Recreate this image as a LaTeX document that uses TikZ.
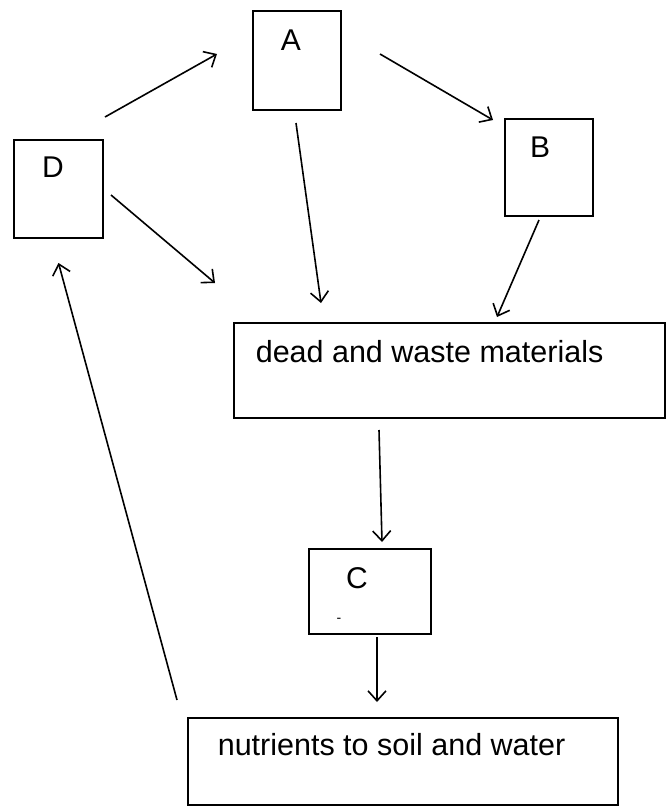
\documentclass[tikz,border=0pt]{standalone}
\usepackage{fontspec}
\setmainfont{Liberation Sans}
\usetikzlibrary{arrows.meta,calc}

\begin{document}
\begin{tikzpicture}[
    x=1pt, y=-1pt,
    >={Straight Barb[length=10pt,width=18pt]},
    every path/.style={line width=1.6pt},
    box/.style={draw,line width=2pt,anchor=north west,inner sep=0pt},
    letter/.style={inner sep=0pt,font=\fontsize{30}{36}\selectfont},
    words/.style={inner sep=0pt,anchor=west,font=\fontsize{30.5}{36}\selectfont}
    ]

    \useasboundingbox (0,0) rectangle (666,806);

    \node (A) at (252, 10) [box,minimum width=88pt,minimum height=99pt] {};
    \node (B) at (504, 118) [box,minimum width=88pt,minimum height=97pt] {};
    \node (D) at (13, 139) [box,minimum width=89pt,minimum height=98pt] {};
    \node (dead) at (233, 322) [box,minimum width=431pt,minimum height=95pt] {};
    \node (C) at (308, 548) [box,minimum width=122pt,minimum height=85pt] {};
    \node (nutr) at (187, 717) [box,minimum width=430pt,minimum height=87pt] {};

    \node (Alabel) at ($(A.north west)+(39,30)$) [letter] {A};
    \node (Blabel) at ($(B.north west)+(36,29)$) [letter] {B};
    \node (Dlabel) at ($(D.north west)+(40,28)$) [letter] {D};
    \node (Clabel) at ($(C.north west)+(49,30)$) [letter] {C};
    \node (Cmark) at ($(C.north west)+(31,72)$) [inner sep=0pt,font=\fontsize{14}{14}\selectfont] {-};
    \node (deadtext) at ($(dead.north west)+(22,30)$) [words] {dead and waste materials};
    \node (nutrtext) at ($(nutr.north west)+(30,28)$) [words] {nutrients to soil and water};

    \draw [->] ($(D.north east)+(1,-22)$) to ($(A.north west)+(-35,44)$);
    \draw [->] ($(A.north east)+(38,44)$) to ($(B.north west)+(-11,2)$);
    \draw [->] ($(A.south)+(-1,12)$) to ($(dead.north west)+(88,-19)$);
    \draw [->] ($(D.east)+(7,6)$) to ($(dead.north west)+(-18,-39)$);
    \draw [->] ($(B.south)+(-10,3)$) to ($(dead.north west)+(264,-5)$);
    \draw [->] ($(dead.south west)+(146,11)$) to ($(C.north west)+(74,-6)$);
    \draw [->] ($(C.south west)+(69,2)$) to ($(nutr.north west)+(190,-15)$);
    \draw [->] ($(nutr.north west)+(-10,-17)$) to ($(D.south)+(0,24)$);

  \end{tikzpicture}
\end{document}
